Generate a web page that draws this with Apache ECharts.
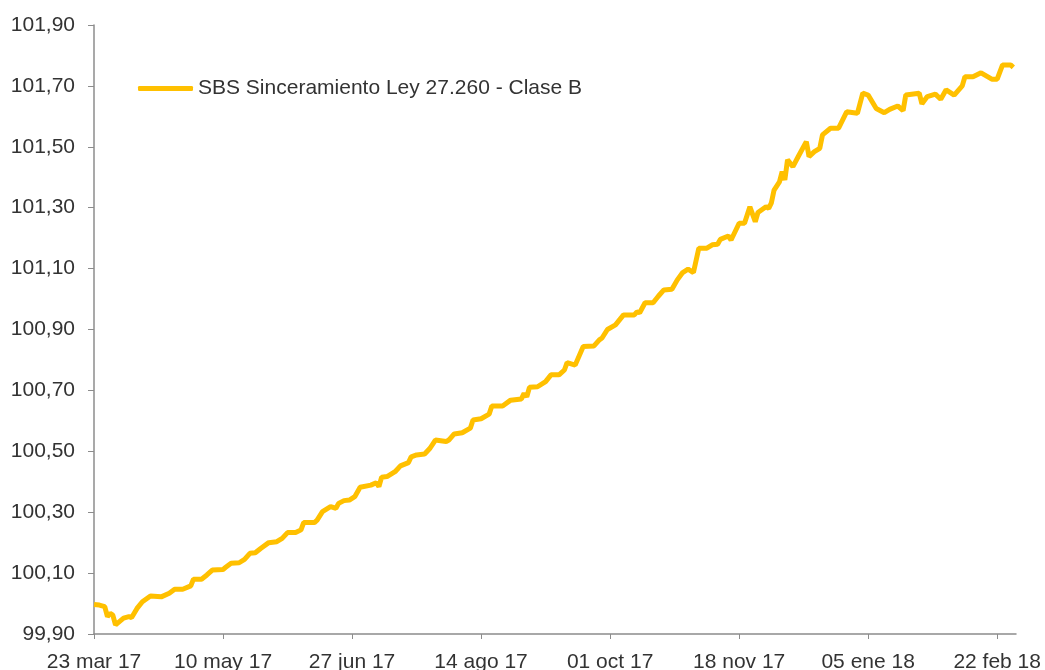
<!DOCTYPE html>
<html>
<head>
<meta charset="utf-8">
<script src="https://cdn.jsdelivr.net/npm/echarts@6/dist/echarts.min.js"></script>
<style>
  html, body { margin: 0; padding: 0; background: #fff; }
  #chart { width: 1045px; height: 670px; }
</style>
</head>
<body>
<div id="chart"></div>
<script>
// días transcurridos desde el 23 mar 17
const startDate = Date.UTC(2017, 2, 23);
const dayOffsets = [
  0, 2, 4, 5, 6, 7, 8, 11, 13, 14, 16, 18, 21, 25, 28, 30, 33, 36, 37, 40,
  42, 44, 48, 49, 51, 54, 56, 58, 60, 62, 65, 68, 70, 72, 75, 77, 78, 82, 83, 85,
  88, 90, 91, 93, 95, 97, 99, 103, 105, 106, 107, 109, 112, 114, 117, 118, 120, 123, 125, 127,
  131, 132, 134, 137, 140, 141, 144, 147, 148, 152, 155, 159, 160, 161, 162, 165, 168, 170, 173, 175,
  176, 179, 182, 186, 188, 189, 191, 194, 197, 201, 202, 203, 205, 208, 210, 212, 215, 217, 219, 221,
  223, 225, 228, 230, 232, 233, 236, 237, 240, 242, 244, 246, 247, 250, 251, 252, 253, 255, 256, 257,
  258, 260, 262, 265, 266, 268, 270, 271, 274, 277, 280, 284, 286, 288, 291, 294, 296, 299, 301, 302,
  307, 308, 310, 313, 315, 317, 320, 323, 324, 327, 330, 334, 336, 338, 341, 342
];
const claseB = [
  99.997, 99.995, 99.99, 99.957, 99.968, 99.962, 99.93, 99.952, 99.957, 99.954, 99.984, 100.006, 100.025, 100.022, 100.034, 100.047, 100.047, 100.058, 100.08, 100.08,
  100.094, 100.11, 100.112, 100.119, 100.132, 100.134, 100.145, 100.165, 100.167, 100.181, 100.20, 100.203, 100.214, 100.233, 100.233, 100.242, 100.266, 100.266, 100.274, 100.302,
  100.318, 100.313, 100.329, 100.338, 100.34, 100.351, 100.382, 100.389, 100.397, 100.384, 100.415, 100.417, 100.433, 100.452, 100.463, 100.482, 100.488, 100.491, 100.51, 100.537,
  100.532, 100.537, 100.557, 100.561, 100.576, 100.603, 100.607, 100.622, 100.649, 100.649, 100.668, 100.672, 100.69, 100.679, 100.71, 100.712, 100.729, 100.751, 100.751, 100.767,
  100.791, 100.783, 100.844, 100.846, 100.866, 100.872, 100.90, 100.915, 100.948, 100.948, 100.958, 100.955, 100.988, 100.988, 101.01, 101.03, 101.032, 101.063, 101.087, 101.098,
  101.087, 101.167, 101.167, 101.178, 101.18, 101.196, 101.207, 101.194, 101.249, 101.249, 101.303, 101.254, 101.284, 101.303, 101.298, 101.316, 101.358, 101.385, 101.418, 101.391,
  101.457, 101.435, 101.468, 101.517, 101.468, 101.484, 101.495, 101.539, 101.561, 101.561, 101.615, 101.61, 101.676, 101.67, 101.626, 101.612, 101.623, 101.634, 101.619, 101.67,
  101.676, 101.641, 101.665, 101.673, 101.656, 101.687, 101.67, 101.70, 101.73, 101.73, 101.743, 101.722, 101.722, 101.769, 101.769, 101.761
];
const xTicks = [0, 48, 96, 144, 192, 240, 288, 336];
const yTicks = [99.9, 100.1, 100.3, 100.5, 100.7, 100.9, 101.1, 101.3, 101.5, 101.7, 101.9];
const meses = ['ene', 'feb', 'mar', 'abr', 'may', 'jun', 'jul', 'ago', 'sep', 'oct', 'nov', 'dic'];

function fechaLabel(v) {
  const d = new Date(startDate + v * 86400000);
  const dd = String(d.getUTCDate()).padStart(2, '0');
  const yy = String(d.getUTCFullYear()).slice(2);
  return dd + ' ' + meses[d.getUTCMonth()] + ' ' + yy;
}

const font = "'Liberation Sans', Arial, sans-serif";
const axisColor = '#8c8c8c';

let myChart = echarts.init(document.getElementById('chart'));
myChart.setOption({
  animation: false,
  grid: { left: 94, right: 29, top: 25, bottom: 36, outerBoundsMode: 'none' },
  legend: {
    left: 133,
    top: 73,
    icon: 'roundRect',
    itemWidth: 55,
    itemHeight: 5,
    textStyle: { fontFamily: font, fontSize: 21, color: '#333' },
    data: ['SBS Sinceramiento Ley 27.260 - Clase B']
  },
  xAxis: {
    type: 'value',
    min: 0,
    max: 343,
    splitLine: { show: false },
    axisLine: { lineStyle: { color: axisColor, width: 1.5 } },
    axisTick: { show: true, customValues: xTicks, length: 5, lineStyle: { color: axisColor } },
    axisLabel: {
      customValues: xTicks,
      margin: 18,
      fontFamily: font,
      fontSize: 21,
      color: '#333',
      formatter: fechaLabel
    }
  },
  yAxis: {
    type: 'value',
    min: 99.9,
    max: 101.9,
    splitLine: { show: false },
    axisLine: { show: true, lineStyle: { color: axisColor, width: 1.5 } },
    axisTick: { show: true, customValues: yTicks, length: 6, lineStyle: { color: axisColor } },
    axisLabel: {
      customValues: yTicks,
      margin: 19,
      fontFamily: font,
      fontSize: 21,
      color: '#333',
      formatter: v => v.toFixed(2).replace('.', ',')
    }
  },
  series: [
    {
      name: 'SBS Sinceramiento Ley 27.260 - Clase B',
      type: 'line',
      symbol: 'none',
      lineStyle: { color: '#FFC000', width: 5 },
      itemStyle: { color: '#FFC000' },
      data: dayOffsets.map((d, i) => [d, claseB[i]])
    }
  ]
});
</script>
</body>
</html>
